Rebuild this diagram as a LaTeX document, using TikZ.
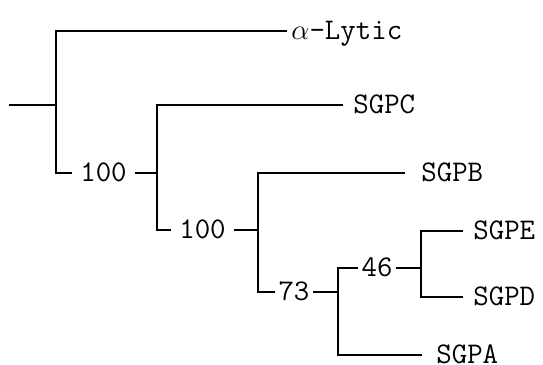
\documentclass[tikz,border=0pt]{standalone}
\usepackage{fontspec}
\usetikzlibrary{positioning}

\begin{document}
\begin{tikzpicture}[
  x=0.5pt, y=-0.5pt,
  font=\ttfamily\fontsize{15}{18}\selectfont,
  taxon/.style={anchor=west, inner sep=0pt, text height=8.5pt, text depth=0pt},
  boot/.style={inner ysep=0pt, inner xsep=4pt, text height=8.5pt, text depth=0pt},
  bootnarrow/.style={boot, inner xsep=1.5pt},
  branch/.style={line width=1pt}
]
\useasboundingbox (0,0) rectangle (543,365);
% ----- junctions and branch tips -----
\coordinate (root) at (9,105);
\coordinate (jA) at (56,105);
\coordinate (jB) at (157,173);
\coordinate (jC) at (258,230);
\coordinate (jD) at (338,292);
\coordinate (jE) at (421,268);
\coordinate (tLytic) at (287,31);
\coordinate (tC) at (343,105);
\coordinate (tB) at (405,173);
\coordinate (tE) at (463,231);
\coordinate (tD) at (463,297);
\coordinate (tA) at (422,355);
% ----- bootstrap values -----
\node[boot] (b1) at (103.5,173) {100};
\node[boot] (b2) at (202.5,230) {100};
\node[bootnarrow] (b3) at (294,292) {73};
\node[bootnarrow] (b4) at (377,268) {46};
% ----- taxa -----
\node[taxon, right=2pt of tLytic] (lytic) {$\alpha$-Lytic};
\node[taxon, right=5pt of tC] (sgpc) {SGPC};
\node[taxon, right=8pt of tB] (sgpb) {SGPB};
\node[taxon, right=5pt of tE] (sgpe) {SGPE};
\node[taxon, right=5pt of tD] (sgpd) {SGPD};
\node[taxon, right=7pt of tA] (sgpa) {SGPA};
% ----- branches -----
\draw[branch] (root) -- (jA);
\draw[branch] (jA) |- (tLytic);
\draw[branch] (jA) |- (b1.west);
\draw[branch] (b1.east) -- (jB);
\draw[branch] (jB) |- (tC);
\draw[branch] (jB) |- (b2.west);
\draw[branch] (b2.east) -- (jC);
\draw[branch] (jC) |- (tB);
\draw[branch] (jC) |- (b3.west);
\draw[branch] (b3.east) -- (jD);
\draw[branch] (jD) |- (b4.west);
\draw[branch] (jD) |- (tA);
\draw[branch] (b4.east) -- (jE);
\draw[branch] (jE) |- (tE);
\draw[branch] (jE) |- (tD);
\end{tikzpicture}
\end{document}
